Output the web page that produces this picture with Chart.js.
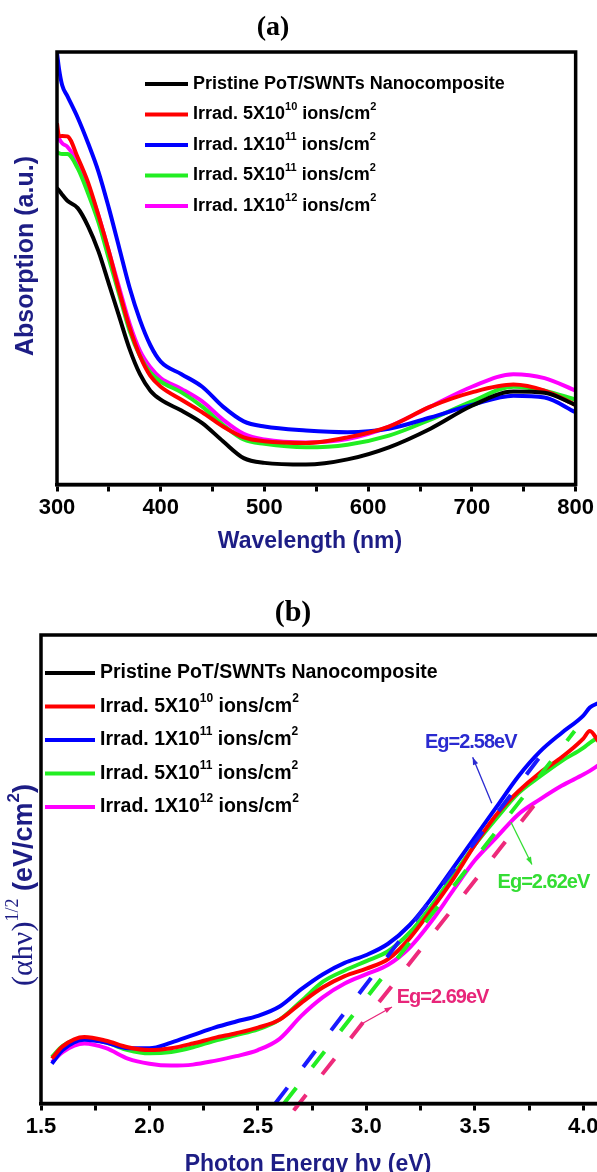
<!DOCTYPE html>
<html>
<head>
<meta charset="utf-8">
<script src="https://cdn.jsdelivr.net/npm/chart.js@4.4.0/dist/chart.umd.min.js"></script>
<style>
  html, body { margin: 0; padding: 0; background: #fff; overflow: hidden; }
  body { width: 597px; height: 1172px; position: relative; }
  #chartA { position: absolute; left: 0; top: 0; }
  #chartB { position: absolute; left: 0; top: 580px; }
</style>
</head>
<body>
<canvas id="chartA" width="597" height="575"></canvas>
<canvas id="chartB" width="620" height="592"></canvas>
<script>
// samples (^ marks a superscript)
const seriesNames = [
    'Pristine PoT/SWNTs Nanocomposite',
    'Irrad. 5X10^10 ions/cm^2',
    'Irrad. 1X10^11 ions/cm^2',
    'Irrad. 5X10^11 ions/cm^2',
    'Irrad. 1X10^12 ions/cm^2'
];
const seriesColors = ['#000000', '#ff0000', '#0000ff', '#22ee22', '#ff00ff'];

// (a) absorption spectra, wavelength in nm
const wlA = [300, 302, 305, 310, 320, 330, 340, 350, 360, 370, 380, 390, 400, 420, 440, 460, 480, 500, 540, 580, 620, 660, 700, 740, 770, 800];
const pristineA = [68.5, 68, 67, 65.6, 63.9, 59.7, 53.9, 46.4, 38.8, 31.3, 25.5, 21.7, 19.6, 17.1, 14.2, 10.0, 6.1, 5.0, 4.6, 5.8, 8.6, 12.9, 18.2, 21.5, 21.2, 18.4];
const irr5e10A = [83.5, 80.5, 80.6, 80.5, 75.6, 69.8, 62.2, 53.9, 44.7, 36.3, 29.7, 25.1, 22.6, 19.6, 16.7, 13.4, 10.9, 10.0, 9.6, 10.9, 13.4, 18.0, 21.3, 23.1, 21.7, 18.4];
const irr1e11A = [99.8, 96, 92.3, 89.8, 84.8, 78.9, 72.3, 63.9, 54.7, 45.5, 38, 32.2, 28.4, 25.5, 22.6, 18, 14.6, 13.4, 12.5, 12.1, 12.9, 15.5, 18.4, 20.5, 20.1, 16.7];
const irr5e11A = [76.9, 76.6, 76.4, 76.4, 73.1, 67.3, 60.6, 52.2, 43.9, 35.5, 29.7, 25.9, 23.8, 21.3, 18, 13.8, 10.4, 9.4, 8.6, 9.2, 11.3, 15, 19.2, 22.6, 21.7, 19.6];
const irr1e12A = [81.5, 80, 78.9, 78.1, 74.4, 68.9, 62.2, 53.9, 45.5, 37.2, 30.9, 27.1, 24.6, 22.1, 19.2, 15, 11.7, 10.4, 9.7, 10.5, 13.4, 18, 22.6, 25.5, 24.6, 21.7];

// (b) Tauc plot, photon energy in eV (pristine curve not visible)
const eVB = [1.55, 1.6, 1.7, 1.8, 1.9, 2.0, 2.1, 2.2, 2.3, 2.4, 2.5, 2.6, 2.7, 2.8, 2.9, 3.0, 3.1, 3.2, 3.3, 3.4, 3.5, 3.6, 3.7, 3.8, 3.9, 4.0, 4.03, 4.07];
const irr5e10B = [9.6, 12.2, 14.2, 13.4, 12, 11.4, 11.8, 12.8, 14, 15, 16.2, 17.9, 21.5, 24.8, 27.2, 28.8, 30.8, 35.3, 41.4, 47.9, 55.2, 61.7, 66.6, 70.6, 73.9, 77.9, 79.5, 77.3];
const irr1e11B = [8.5, 11.4, 13.6, 13.0, 11.8, 11.8, 13.0, 14.6, 16.2, 17.5, 18.7, 20.7, 24.4, 27.6, 30.0, 31.7, 34.1, 38.1, 43.8, 50.3, 56.8, 63.3, 69.8, 75.1, 79.1, 82.8, 84.5, 85.5];
const irr5e11B = [9.9, 12.3, 13.8, 13, 11.4, 10.7, 11, 12, 13.4, 14.6, 15.8, 17.9, 21.9, 26, 28.4, 30.4, 32.5, 36.5, 42.2, 48.7, 55.2, 60.9, 66.2, 69.8, 73.1, 75.9, 77, 78.2];
const irr1e12B = [8.8, 11, 12.8, 11.8, 9.6, 8.5, 8.1, 8.3, 9.1, 10.1, 11.4, 13.8, 18.7, 22.7, 25.6, 27.6, 29.6, 33.3, 38.9, 45.5, 51.9, 56.8, 61.7, 64.9, 67.8, 70.2, 71, 72.2];

// linear fits extrapolated to the band gap
const fitNames = ['Eg=2.58eV', 'Eg=2.62eV', 'Eg=2.69eV'];
const fitX = [[2.58, 3.80], [2.62, 3.96], [2.665, 3.83]];
const fitY = [[0, 74], [0, 79.5], [-1.5, 67]];
const fitColors = ['#1a1aff', '#22ee22', '#ee2a7b'];
const noteColors = ['#2a2ad0', '#33dd33', '#e8267a'];

const toPoints = (xs, ys) => xs.map((x, i) => ({ x: x, y: ys[i] }));

const SANS = '"Liberation Sans", Arial, sans-serif';
const SERIF = '"Liberation Serif", "Times New Roman", serif';
const NAVY = '#1d1d85';

// text with ^superscripts
function drawRich(ctx, label, x, y, size) {
    let cx = x;
    label.split(/(\^\d+)/).forEach(s => {
        if (!s) return;
        const sup = s[0] === '^';
        const t = sup ? s.slice(1) : s;
        const fs = sup ? Math.round(size * 0.6) : size;
        ctx.font = 'bold ' + fs + 'px ' + SANS;
        ctx.fillText(t, cx, sup ? y - size * 0.42 : y);
        cx += ctx.measureText(t).width;
    });
}

function arrow(ctx, x1, y1, x2, y2, color) {
    const a = Math.atan2(y2 - y1, x2 - x1), h = 8;
    ctx.strokeStyle = color;
    ctx.fillStyle = color;
    ctx.lineWidth = 1.3;
    ctx.beginPath();
    ctx.moveTo(x1, y1);
    ctx.lineTo(x2, y2);
    ctx.stroke();
    ctx.beginPath();
    ctx.moveTo(x2, y2);
    ctx.lineTo(x2 - h * Math.cos(a - 0.35), y2 - h * Math.sin(a - 0.35));
    ctx.lineTo(x2 - h * Math.cos(a + 0.35), y2 - h * Math.sin(a + 0.35));
    ctx.closePath();
    ctx.fill();
}

// frame, titles, legend and notes
const decor = {
    id: 'decor',
    afterDraw(chart, args, opts) {
        const ctx = chart.ctx;
        const area = chart.chartArea;
        const xs = chart.scales.x, ys = chart.scales.y;
        ctx.save();

        ctx.strokeStyle = '#000';
        ctx.lineWidth = 3.5;
        ctx.strokeRect(area.left, area.top, area.right - area.left, area.bottom - area.top);

        ctx.fillStyle = '#000';
        ctx.textAlign = 'center';
        ctx.textBaseline = 'middle';
        ctx.font = 'bold ' + opts.title.size + 'px ' + SERIF;
        ctx.fillText(opts.title.text, opts.title.x, opts.title.y);

        ctx.fillStyle = NAVY;
        ctx.font = 'bold 23px ' + SANS;
        ctx.fillText(opts.xTitle.text, opts.xTitle.x, opts.xTitle.y);

        // legend
        const lg = opts.legend;
        ctx.textAlign = 'left';
        seriesNames.forEach((name, i) => {
            const y = lg.y + i * lg.step;
            ctx.strokeStyle = seriesColors[i];
            ctx.lineWidth = 4;
            ctx.beginPath();
            ctx.moveTo(lg.x, y);
            ctx.lineTo(lg.x + lg.len, y);
            ctx.stroke();
            ctx.fillStyle = '#000';
            drawRich(ctx, name, lg.x + lg.len + 5, y, lg.size);
        });

        if (opts.yTitle) {
            ctx.save();
            ctx.translate(opts.yTitle.x, opts.yTitle.y);
            ctx.rotate(-Math.PI / 2);
            ctx.fillStyle = NAVY;
            ctx.textAlign = 'center';
            ctx.font = 'bold 25px ' + SANS;
            ctx.fillText(opts.yTitle.text, 0, 0);
            ctx.restore();
        }

        if (opts.yTitleRich) {
            const pieces = [
                { t: '(\u03b1h\u03bd)', f: '30px ' + SERIF, dy: 0 },
                { t: '1/2', f: '18px ' + SERIF, dy: -14 },
                { t: ' (eV/cm', f: 'bold 27px ' + SANS, dy: 0 },
                { t: '2', f: 'bold 17px ' + SANS, dy: -13 },
                { t: ')', f: 'bold 27px ' + SANS, dy: 0 }
            ];
            ctx.save();
            ctx.translate(opts.yTitleRich.x, opts.yTitleRich.y);
            ctx.rotate(-Math.PI / 2);
            ctx.fillStyle = NAVY;
            ctx.textAlign = 'left';
            ctx.textBaseline = 'alphabetic';
            let total = 0;
            pieces.forEach(p => { ctx.font = p.f; total += ctx.measureText(p.t).width; });
            let u = -total / 2;
            pieces.forEach(p => {
                ctx.font = p.f;
                ctx.fillText(p.t, u, p.dy);
                u += ctx.measureText(p.t).width;
            });
            ctx.restore();
        }

        (opts.notes || []).forEach((n, i) => {
            ctx.fillStyle = noteColors[i];
            ctx.textAlign = 'left';
            ctx.textBaseline = 'middle';
            ctx.font = 'bold 20px ' + SANS;
            ctx.letterSpacing = '-1px';
            ctx.fillText(fitNames[i], xs.getPixelForValue(n.x), ys.getPixelForValue(n.y));
            ctx.letterSpacing = '0px';
            arrow(ctx, xs.getPixelForValue(n.from[0]), ys.getPixelForValue(n.from[1]),
                xs.getPixelForValue(n.to[0]), ys.getPixelForValue(n.to[1]), noteColors[i]);
        });

        ctx.restore();
    }
};

const tickFont = { family: SANS, size: 22, weight: 'bold' };

// Chart (a)
const absA = [pristineA, irr5e10A, irr1e11A, irr5e11A, irr1e12A];

new Chart(document.getElementById('chartA'), {
    type: 'line',
    data: {
        datasets: seriesNames.map((name, i) => ({
            label: name,
            data: toPoints(wlA, absA[i]),
            borderColor: seriesColors[i],
            borderWidth: 4,
            pointRadius: 0,
            cubicInterpolationMode: 'monotone',
            fill: false
        }))
    },
    options: {
        responsive: false,
        animation: false,
        layout: { padding: { top: 52, right: 21, left: 57, bottom: 0 } },
        scales: {
            x: {
                type: 'linear',
                min: 300,
                max: 800,
                afterFit: s => { s.height = 90.5; },
                ticks: {
                    stepSize: 50,
                    autoSkip: false,
                    maxRotation: 0,
                    padding: 3,
                    color: '#000',
                    font: tickFont,
                    callback: v => (v % 100 === 0 ? String(v) : '')
                },
                grid: { drawOnChartArea: false, tickLength: 7, tickWidth: 3, tickColor: '#000' },
                border: { color: '#000', width: 3.5 }
            },
            y: { display: false, min: 0, max: 100 }
        },
        plugins: {
            legend: { display: false },
            tooltip: { enabled: false },
            decor: {
                title: { text: '(a)', x: 273, y: 28, size: 28 },
                xTitle: { text: 'Wavelength (nm)', x: 310, y: 542 },
                yTitle: { text: 'Absorption (a.u.)', x: 26, y: 256 },
                legend: { x: 145, y: 84, step: 30.5, len: 43, size: 18 }
            }
        }
    },
    plugins: [decor]
});

// Chart (b)
const tauc = [null, irr5e10B, irr1e11B, irr5e11B, irr1e12B];
const fitSets = fitNames.map((name, i) => ({
    label: name,
    data: toPoints(fitX[i], fitY[i]),
    borderColor: fitColors[i],
    borderWidth: 4,
    borderDash: [20, 26],
    pointRadius: 0,
    order: 0,
    clip: { left: 0, top: 0, right: 0, bottom: 8 }
}));
const curveSets = seriesNames.map((name, i) => ({
    label: name,
    data: tauc[i] ? toPoints(eVB, tauc[i]) : [],
    borderColor: seriesColors[i],
    borderWidth: 4,
    pointRadius: 0,
    cubicInterpolationMode: 'monotone',
    order: 1,
    fill: false
}));

new Chart(document.getElementById('chartB'), {
    type: 'line',
    data: { datasets: fitSets.concat(curveSets) },
    options: {
        responsive: false,
        animation: false,
        layout: { padding: { top: 55, right: 15, left: 41, bottom: 0 } },
        scales: {
            x: {
                type: 'linear',
                min: 1.5,
                max: 4.1,
                afterFit: s => { s.height = 68.5; },
                ticks: {
                    stepSize: 0.25,
                    includeBounds: false,
                    autoSkip: false,
                    maxRotation: 0,
                    padding: 3,
                    color: '#000',
                    font: tickFont,
                    callback: v => (Math.abs(v * 2 - Math.round(v * 2)) < 1e-6 ? v.toFixed(1) : '')
                },
                grid: { drawOnChartArea: false, tickLength: 7, tickWidth: 3, tickColor: '#000' },
                border: { color: '#000', width: 3.5 }
            },
            y: { display: false, min: 0, max: 100 }
        },
        plugins: {
            legend: { display: false },
            tooltip: { enabled: false },
            decor: {
                title: { text: '(b)', x: 293, y: 33, size: 30 },
                xTitle: { text: 'Photon Energy h\u03bd (eV)', x: 308, y: 585 },
                yTitleRich: { x: 32, y: 305 },
                legend: { x: 45, y: 93, step: 33.5, len: 50, size: 19.5 },
                notes: [
                    { x: 3.27, y: 77.1, from: [3.578, 64.1], to: [3.49, 73.9] },
                    { x: 3.605, y: 47.1, from: [3.666, 60.1], to: [3.763, 51.0] },
                    { x: 3.14, y: 22.7, from: [2.971, 16.8], to: [3.118, 20.6] }
                ]
            }
        }
    },
    plugins: [decor]
});
</script>
</body>
</html>
